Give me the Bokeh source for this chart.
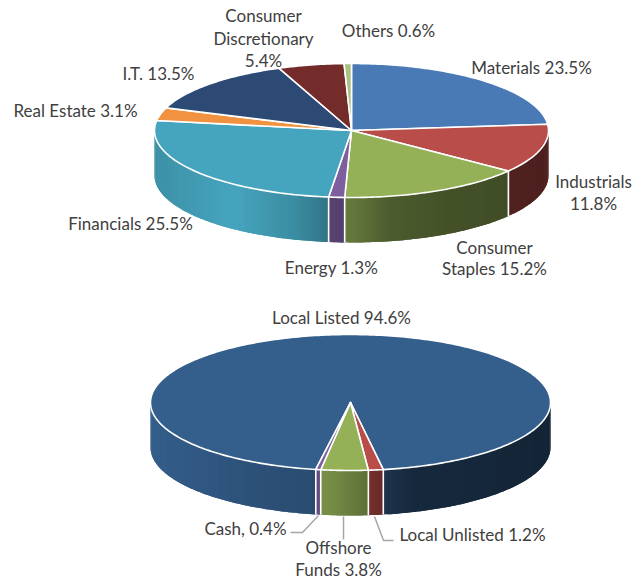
import numpy as np
from bokeh.plotting import figure
from bokeh.embed import file_html
from bokeh.resources import INLINE
from bokeh.core.properties import value

cats1 = ["Materials", "Industrials", "Consumer Staples", "Energy", "Financials",
         "Real Estate", "I.T.", "Consumer Discretionary", "Others"]
vals1 = [23.5, 11.8, 15.2, 1.3, 25.5, 3.1, 13.5, 5.4, 0.6]
cols1 = ["#4a7ab5", "#b84d4a", "#94b158", "#7d5fa0", "#46a5be", "#f0923f", "#2c4a73", "#732c2a", "#a9c283"]

cats2 = ["Local Listed", "Local Unlisted", "Offshore Funds", "Cash"]
vals2 = [94.6, 1.2, 3.8, 0.4]
cols2 = ["#345e8b", "#b84d4a", "#94b158", "#7d5fa0"]

labels = [
    ("Materials 23.5%", 531, 67), ("Industrials", 593, 181), ("11.8%", 593, 203),
    ("Consumer", 494, 247), ("Staples 15.2%", 494, 268), ("Energy 1.3%", 331, 267),
    ("Financials 25.5%", 130, 223), ("Real Estate 3.1%", 75, 110), ("I.T. 13.5%", 158, 73),
    ("Consumer", 263, 15), ("Discretionary", 263, 38), ("5.4%", 263, 60), ("Others 0.6%", 388, 30),
    ("Local Listed 94.6%", 341, 317), ("Cash, 0.4%", 245, 528), ("Local Unlisted 1.2%", 472, 534),
    ("Offshore", 338, 547), ("Funds 3.8%", 338, 569),
]

# wall brightness against horizontal position on the pie
shade_u = [-1.0, -0.6, -0.3, -0.1, 0.0, 0.2, 0.5, 1.0]
shade1 = [0.88, 1.0, 0.86, 0.70, 0.68, 0.52, 0.46, 0.42]
shade2_u = [-1.0, -0.4, -0.1, 0.1, 0.3, 1.0]
shade2 = [1.0, 0.85, 0.80, 0.62, 0.44, 0.40]

W, H = 643, 580
p = figure(width=W, height=H, x_range=(0, W), y_range=(H, 0), output_backend="svg",
           toolbar_location=None, min_border=0, outline_line_color=None)
p.axis.visible = False
p.grid.visible = False
p.background_fill_color = "white"
p.border_fill_color = "white"


def scale(hexc, f):
    r, g, b = int(hexc[1:3], 16), int(hexc[3:5], 16), int(hexc[5:7], 16)
    return "#%02x%02x%02x" % (min(255, int(r * f)), min(255, int(g * f)), min(255, int(b * f)))


def pie(vals, cols, start, cx, cy, rx, ry, depth, su, sv):
    total = sum(vals)
    edges = start + np.concatenate([[0], np.cumsum(vals)]) / total * 360.0
    px = lambda t: cx + rx * np.sin(np.radians(t))
    py = lambda t: cy - ry * np.cos(np.radians(t))
    seams = []
    strips = []
    for i, col in enumerate(cols):
        for k in (-360, 0, 360):
            a, b = max(edges[i] + k, 90), min(edges[i + 1] + k, 270)
            if a >= b:
                continue
            n = max(2, int((b - a) / 1.0))
            ts = np.linspace(a, b, n + 1)
            step = ts[1] - ts[0]
            for t0, t1 in zip(ts[:-1], ts[1:]):
                # each strip runs on under its right-hand neighbour, so no seam shows
                t_right = max(a, t0 - step)
                tt = np.array([t_right, t0, t1])
                xs = px(tt)
                ys = py(tt)
                strips.append((float(xs[-1]),
                               list(xs) + list(xs[::-1]),
                               list(ys) + list(ys[::-1] + depth),
                               scale(col, float(np.interp((0.5 * (px(t0) + px(t1)) - cx) / rx, su, sv)))))
            for t in (a, b):
                if 90 < t < 270:
                    seams.append(t)
    strips.sort(key=lambda s: s[0])
    p.patches([s[1] for s in strips], [s[2] for s in strips], fill_color=[s[3] for s in strips], line_color=None)
    for t in set(np.round(seams, 4)):
        p.line([px(t), px(t)], [py(t), py(t) + depth], line_color="white", line_width=1.6)
    for i, col in enumerate(cols):
        ts = np.linspace(edges[i], edges[i + 1], max(3, int(edges[i + 1] - edges[i]) + 2))
        p.patch(np.r_[cx, px(ts)], np.r_[cy, py(ts)], fill_color=col, line_color="white", line_width=1.6,
                line_join="round")


pie(vals1, cols1, 0.0, 351, 130, 197, 67, 45, shade_u, shade1)
pie(vals2, cols2, 190.0, 350, 402, 200, 68, 45, shade2_u, shade2)

# leader lines
for xs, ys in [([318, 302, 290], [515, 532, 532]), ([343, 343], [516, 539]), ([374, 383, 393], [516, 540, 540])]:
    p.line(xs, ys, line_color="#a6a6a6", line_width=1.5)

p.text([l[1] for l in labels], [l[2] for l in labels], text=[l[0] for l in labels],
       text_font=value("Lato"), text_font_size="17px", text_color="#404040",
       text_align="center", text_baseline="middle")

open("out.html", "w").write(file_html(p, INLINE))
